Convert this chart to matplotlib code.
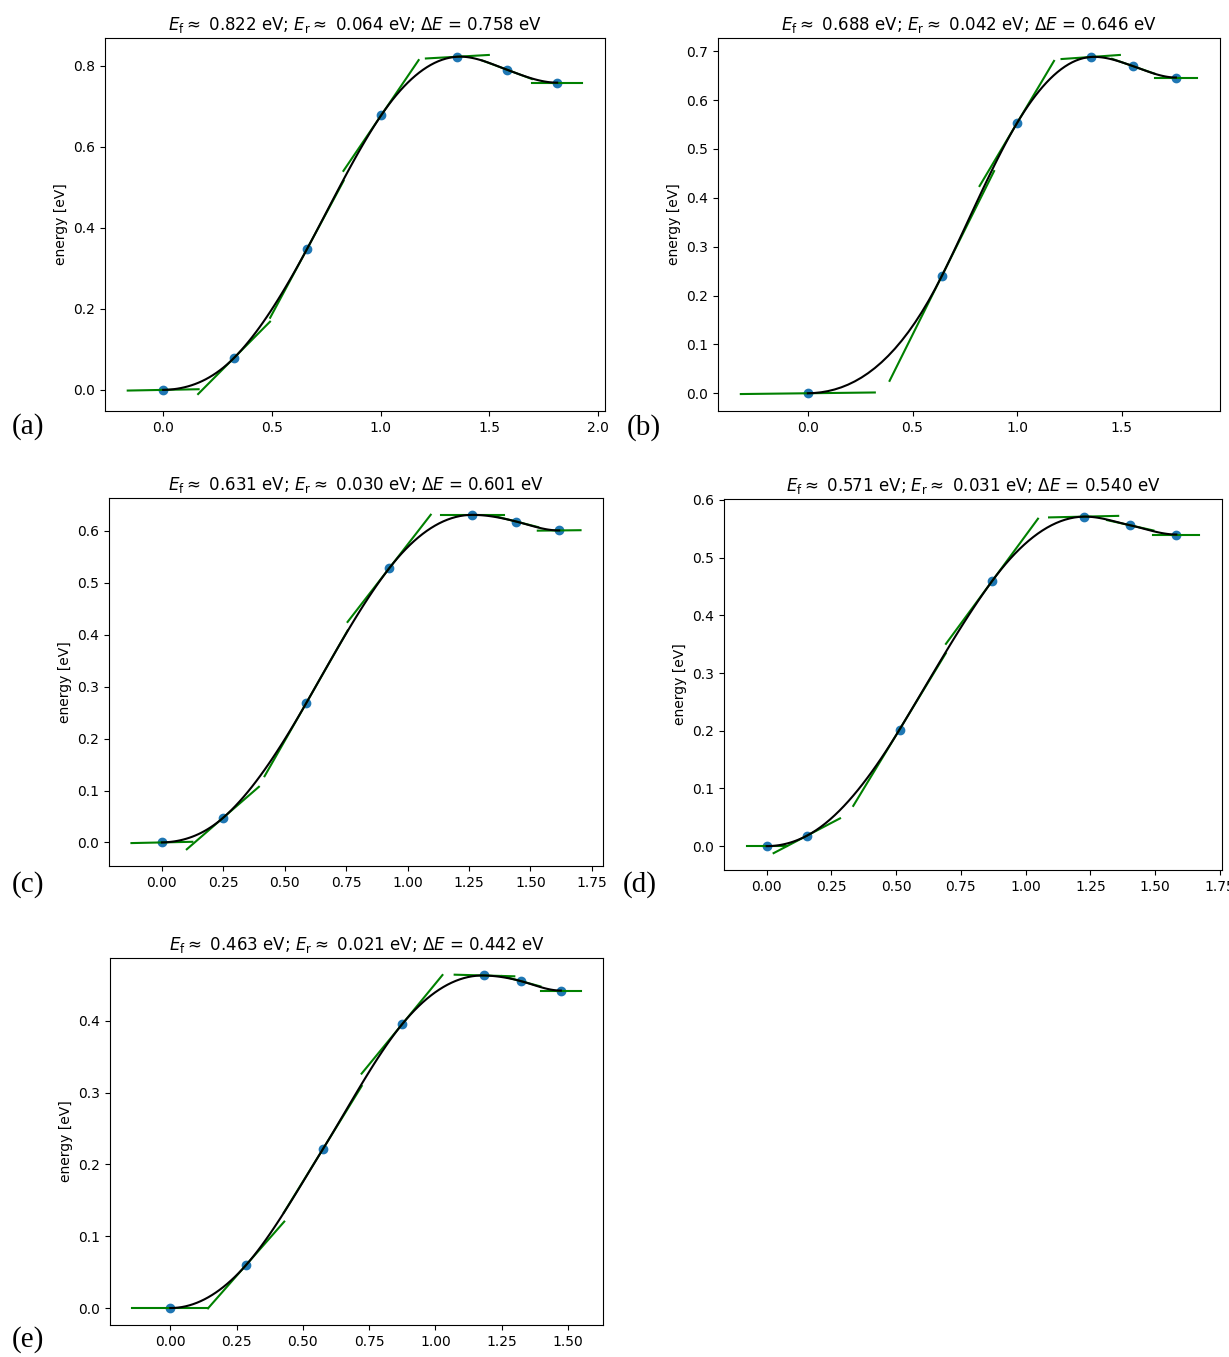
"""NEB energy profiles for five paths, each with its fitted band and force tangents."""

import matplotlib

matplotlib.use("Agg")
import matplotlib.pyplot as plt
import numpy as np
from matplotlib.axes import Axes

# reaction coordinate [Å] of each image
PATH_A = [0.0, 0.326, 0.661, 1.002, 1.353, 1.581, 1.812]
PATH_B = [0.0, 0.640, 0.998, 1.351, 1.555, 1.758]
PATH_C = [0.0, 0.248, 0.587, 0.925, 1.264, 1.443, 1.617]
PATH_D = [0.0, 0.155, 0.513, 0.870, 1.224, 1.404, 1.582]
PATH_E = [0.0, 0.286, 0.575, 0.874, 1.185, 1.324, 1.473]

# image energies relative to the initial state [eV]
ENERGY_A = [0.0, 0.079, 0.347, 0.677, 0.822, 0.790, 0.758]
ENERGY_B = [0.0, 0.240, 0.552, 0.688, 0.669, 0.646]
ENERGY_C = [0.0, 0.047, 0.268, 0.528, 0.631, 0.618, 0.601]
ENERGY_D = [0.0, 0.018, 0.202, 0.459, 0.571, 0.556, 0.540]
ENERGY_E = [0.0, 0.060, 0.221, 0.395, 0.463, 0.455, 0.442]

# dE/ds along the band, i.e. minus the projected force [eV/Å]
SLOPE_A = [0.01, 0.54, 1.00, 0.79, 0.03, -0.20, 0.0]
SLOPE_B = [0.005, 0.86, 0.72, 0.03, -0.15, 0.0]
SLOPE_C = [0.01, 0.41, 0.83, 0.61, 0.0, -0.12, 0.005]
SLOPE_D = [0.0, 0.235, 0.74, 0.61, 0.01, -0.10, 0.0]
SLOPE_E = [0.0, 0.42, 0.60, 0.45, -0.01, -0.10, 0.0]

PANEL_LABELS = ["(a)", "(b)", "(c)", "(d)", "(e)"]

FIG_W, FIG_H = 1229, 1357
# axes boxes in pixels: left, top, right, bottom
AXES_PX = [
    (105, 38, 605, 411),
    (718, 38, 1220, 411),
    (109, 498, 603, 866),
    (724, 499, 1222, 870),
    (110, 958, 603, 1325),
]
LABEL_PX = [(12, 427), (627, 428), (12, 885), (623, 885), (12, 1340)]


def fit_band(path, energies, slopes):
    """Cubic Hermite pieces between images plus short tangent segments."""
    path = np.asarray(path)
    energies = np.asarray(energies)
    n = len(path)
    lines = []
    fit_x, fit_y = [], []
    for i in range(n):
        if i == 0:
            dpath = 0.5 * path[1]
        elif i == n - 1:
            dpath = 0.5 * (path[-1] - path[-2])
        else:
            dpath = 0.25 * (path[i + 1] - path[i - 1])
        x = np.linspace(path[i] - dpath, path[i] + dpath, 3)
        lines.append((x, energies[i] + slopes[i] * (x - path[i])))
        if i > 0:
            s0, s1 = path[i - 1], path[i]
            a = np.array(
                [
                    (1, s0, s0**2, s0**3),
                    (1, s1, s1**2, s1**3),
                    (0, 1, 2 * s0, 3 * s0**2),
                    (0, 1, 2 * s1, 3 * s1**2),
                ]
            )
            c = np.linalg.solve(
                a, np.array([energies[i - 1], energies[i], slopes[i - 1], slopes[i]])
            )
            xs = np.linspace(s0, s1, 20, endpoint=False)
            fit_x.append(xs)
            fit_y.append(c[0] + xs * (c[1] + xs * (c[2] + xs * c[3])))
    fit_x.append([path[-1]])
    fit_y.append([energies[-1]])
    return lines, np.concatenate(fit_x), np.concatenate(fit_y)


def plot_band(ax: Axes, path, energies, slopes) -> None:
    lines, fit_x, fit_y = fit_band(path, energies, slopes)
    ax.plot(path, energies, "o")
    for x, y in lines:
        ax.plot(x, y, "-g")
    ax.plot(fit_x, fit_y, "k-")
    ax.set_ylabel("energy [eV]")
    ef = max(energies) - energies[0]
    er = max(energies) - energies[-1]
    de = energies[-1] - energies[0]
    ax.set_title(
        r"$E_\mathrm{{f}} \approx$ {:.3f} eV; "
        r"$E_\mathrm{{r}} \approx$ {:.3f} eV; "
        r"$\Delta E$ = {:.3f} eV".format(ef, er, de)
    )


def main() -> None:
    fig = plt.figure(figsize=(FIG_W / 100, FIG_H / 100), dpi=100)
    bands = [
        (PATH_A, ENERGY_A, SLOPE_A),
        (PATH_B, ENERGY_B, SLOPE_B),
        (PATH_C, ENERGY_C, SLOPE_C),
        (PATH_D, ENERGY_D, SLOPE_D),
        (PATH_E, ENERGY_E, SLOPE_E),
    ]
    for (left, top, right, bottom), band in zip(AXES_PX, bands):
        ax = fig.add_axes(
            [left / FIG_W, 1 - bottom / FIG_H, (right - left) / FIG_W, (bottom - top) / FIG_H]
        )
        plot_band(ax, *band)
    for (x, y), label in zip(LABEL_PX, PANEL_LABELS):
        fig.text(
            x / FIG_W,
            1 - y / FIG_H,
            label,
            family=["Liberation Serif", "DejaVu Serif"],
            fontsize=21,
            ha="left",
            va="center",
        )
    fig.savefig("out.png", dpi=100)


main() if __name__ == "__main__" else None
